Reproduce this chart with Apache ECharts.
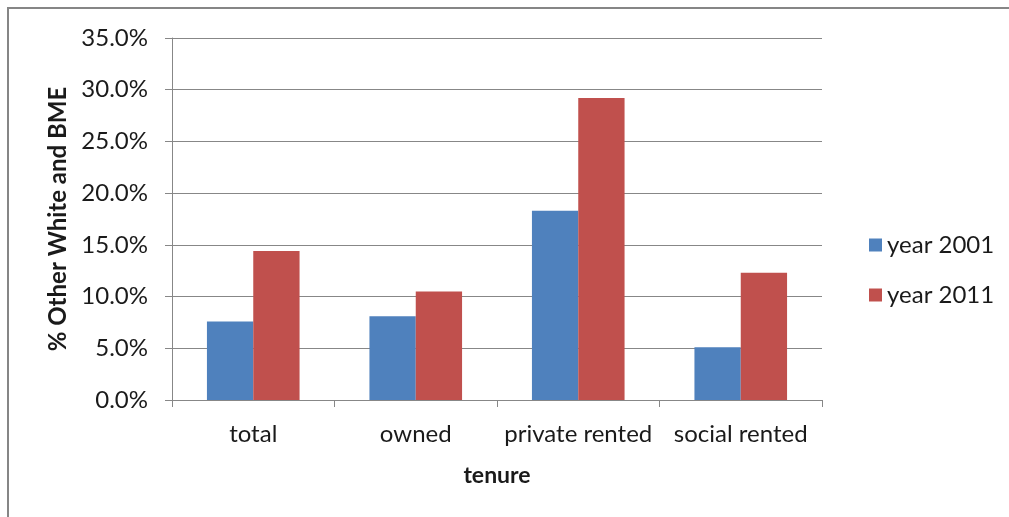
<!DOCTYPE html>
<html>
<head>
<meta charset="utf-8">
<script src="https://cdn.jsdelivr.net/npm/echarts@6/dist/echarts.min.js"></script>
<style>
  html, body { margin: 0; padding: 0; background: #fff; }
  #chart { width: 1009px; height: 517px; }
</style>
</head>
<body>
<div id="chart"></div>
<script>
// tenure categories and % other white / BME
const categories = ['total', 'owned', 'private rented', 'social rented'];
const year2001 = [7.6, 8.1, 18.3, 5.1];
const year2011 = [14.4, 10.5, 29.2, 12.3];
const yTicks = [0, 5, 10, 15, 20, 25, 30, 35];

const font = 'Lato, "Open Sans", sans-serif';

let myChart = echarts.init(document.getElementById('chart'));
myChart.setOption({
    animation: false,
    textStyle: { fontFamily: font },
    graphic: [{
        type: 'rect',
        shape: { x: 8, y: 8, width: 1020, height: 530 },
        style: { fill: 'none', stroke: '#868686', lineWidth: 2 },
        silent: true
    }],
    grid: { left: 172, right: 187, top: 38, bottom: 117 },
    legend: {
        orient: 'vertical',
        left: 864,
        top: 228,
        itemWidth: 13,
        itemHeight: 13,
        itemGap: 26,
        icon: 'rect',
        textStyle: { fontSize: 24, color: '#1a1a1a', fontFamily: font },
        data: ['year 2001', 'year 2011']
    },
    xAxis: {
        type: 'category',
        data: categories,
        name: 'tenure',
        nameLocation: 'middle',
        nameGap: 64,
        nameTextStyle: { fontSize: 23, fontWeight: 'bold', color: '#1a1a1a' },
        axisLine: { lineStyle: { color: '#878787' } },
        axisTick: { show: true, interval: 0, length: 7, lineStyle: { color: '#878787' } },
        axisLabel: { interval: 0, fontSize: 24, color: '#1a1a1a', margin: 22 }
    },
    yAxis: {
        type: 'value',
        min: 0,
        max: 35,
        interval: 5,
        name: '% Other White and BME',
        nameLocation: 'middle',
        nameGap: 101,
        nameTextStyle: { fontSize: 24, fontWeight: 'bold', color: '#1a1a1a' },
        axisLine: { show: true, lineStyle: { color: '#878787' } },
        axisTick: { show: true, length: 7, lineStyle: { color: '#878787' } },
        splitLine: { lineStyle: { color: '#878787' } },
        axisLabel: {
            fontSize: 24, color: '#1a1a1a', margin: 24,
            formatter: v => yTicks.includes(v) ? v.toFixed(1) + '%' : ''
        }
    },
    series: [{
        name: 'year 2001',
        type: 'bar',
        data: year2001,
        barGap: '0%',
        barCategoryGap: '43%',
        itemStyle: { color: '#4f81bd' }
    }, {
        name: 'year 2011',
        type: 'bar',
        data: year2011,
        itemStyle: { color: '#c0504d' }
    }]
});
</script>
</body>
</html>
